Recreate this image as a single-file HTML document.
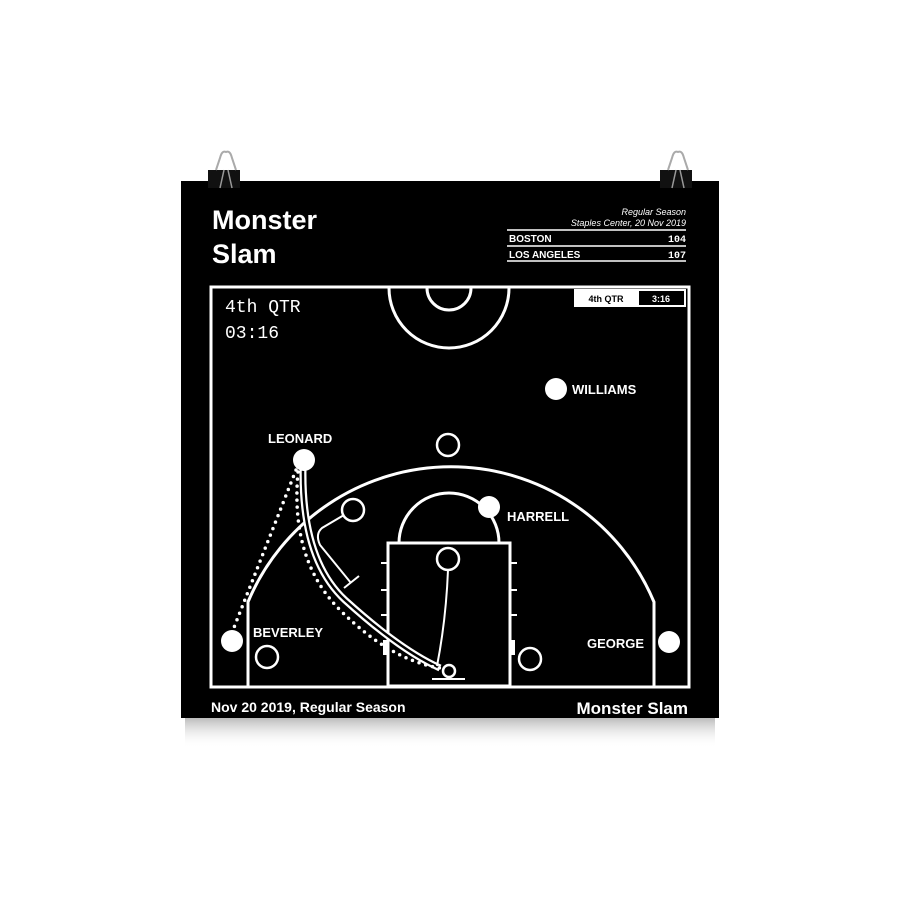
<!DOCTYPE html>
<html><head><meta charset="utf-8"><style>
html,body{margin:0;padding:0;background:#fff;width:900px;height:900px;overflow:hidden}
</style></head><body>
<svg width="900" height="900" viewBox="0 0 900 900" xmlns="http://www.w3.org/2000/svg" font-family="Liberation Sans, sans-serif">
<defs>
<linearGradient id="sh" x1="0" y1="0" x2="0" y2="1"><stop offset="0" stop-color="#bbb"/><stop offset="1" stop-color="#fff" stop-opacity="0"/></linearGradient>
</defs>
<rect x="185" y="718" width="530" height="30" fill="url(#sh)"/>
<rect x="181" y="181" width="538" height="537" fill="#000"/>
<!-- clips -->
<g>
<rect x="208" y="170" width="32" height="18" fill="#111"/>
<path d="M216 170 L220 158 Q222 150 226 152 Q230 150 232 158 L236 170" fill="none" stroke="#aaa" stroke-width="2"/>
<path d="M220 188 L224 170 M232 188 L228 170" stroke="#999" stroke-width="1.5"/>
<rect x="660" y="170" width="32" height="18" fill="#111"/>
<path d="M668 170 L672 158 Q674 150 678 152 Q682 150 684 158 L688 170" fill="none" stroke="#aaa" stroke-width="2"/>
<path d="M672 188 L676 170 M684 188 L680 170" stroke="#999" stroke-width="1.5"/>
</g>
<text x="212" y="229" fill="#fff" font-size="27" font-weight="bold">Monster</text>
<text x="212" y="263" fill="#fff" font-size="27" font-weight="bold">Slam</text>
<text x="686" y="215" fill="#fff" font-size="9" font-style="italic" text-anchor="end">Regular Season</text>
<text x="686" y="226" fill="#fff" font-size="9" font-style="italic" text-anchor="end">Staples Center, 20 Nov 2019</text>
<g stroke="#fff" stroke-width="1.5"><line x1="507" y1="230" x2="686" y2="230"/><line x1="507" y1="246" x2="686" y2="246"/><line x1="507" y1="261" x2="686" y2="261"/></g>
<text x="509" y="242" fill="#fff" font-size="10" font-weight="bold">BOSTON</text>
<text x="686" y="242" fill="#fff" font-size="10" font-weight="bold" text-anchor="end" font-family="Liberation Mono, monospace">104</text>
<text x="509" y="258" fill="#fff" font-size="10" font-weight="bold">LOS ANGELES</text>
<text x="686" y="258" fill="#fff" font-size="10" font-weight="bold" text-anchor="end" font-family="Liberation Mono, monospace">107</text>
<!-- court -->
<g fill="none" stroke="#fff" stroke-width="3">
<rect x="211" y="287" width="478" height="400"/>
<rect x="388" y="543" width="122" height="143"/>
<path d="M399 543 A50 50 0 0 1 499 543"/>
<path d="M248 686 L248 602 A220 220 0 0 1 654 602 L654 686"/>
<path d="M389 288 A60 60 0 0 0 509 288"/>
<path d="M427 288 A22 22 0 0 0 471 288"/>
</g>
<g stroke="#fff" stroke-width="2">
<line x1="381" y1="563" x2="388" y2="563"/><line x1="381" y1="590" x2="388" y2="590"/><line x1="381" y1="615" x2="388" y2="615"/>
<line x1="510" y1="563" x2="517" y2="563"/><line x1="510" y1="590" x2="517" y2="590"/><line x1="510" y1="615" x2="517" y2="615"/>
<line x1="432" y1="679" x2="465" y2="679"/>
</g>
<rect x="383" y="640" width="5" height="15" fill="#fff"/><rect x="510" y="640" width="5" height="15" fill="#fff"/>
<!-- quarter box -->
<rect x="574" y="289" width="112" height="18" fill="#fff"/>
<rect x="639" y="291" width="45" height="14" fill="#000"/>
<text x="606" y="302" font-size="9" font-weight="bold" text-anchor="middle" fill="#000">4th QTR</text>
<text x="661" y="302" font-size="9" font-weight="bold" text-anchor="middle" fill="#fff">3:16</text>
<text x="225" y="312" fill="#fff" font-size="18" font-family="Liberation Mono, monospace">4th QTR</text>
<text x="225" y="338" fill="#fff" font-size="18" font-family="Liberation Mono, monospace">03:16</text>
<!-- paths -->
<path d="M303 470 Q302 560 345 600 Q400 650 440 668" fill="none" stroke="#fff" stroke-width="7"/>
<path d="M303 470 Q302 560 345 600 Q400 650 440 668" fill="none" stroke="#000" stroke-width="2.5"/>
<path d="M296 470 L233 630" fill="none" stroke="#fff" stroke-width="3.5" stroke-dasharray="0 7" stroke-linecap="round"/>
<path d="M298 472 Q290 560 340 610 Q390 660 440 668" fill="none" stroke="#fff" stroke-width="3.5" stroke-dasharray="0 7" stroke-linecap="round"/>
<path d="M344 515 L322 528 Q315 534 320 545 L351 583" fill="none" stroke="#fff" stroke-width="2"/>
<line x1="344" y1="588" x2="359" y2="576" stroke="#fff" stroke-width="2"/>
<path d="M448 570 Q446 620 437 666" fill="none" stroke="#fff" stroke-width="2"/>
<!-- players -->
<g fill="#fff">
<circle cx="304" cy="460" r="11"/><circle cx="489" cy="507" r="11"/><circle cx="556" cy="389" r="11"/><circle cx="232" cy="641" r="11"/><circle cx="669" cy="642" r="11"/>
</g>
<g fill="none" stroke="#fff" stroke-width="2.5">
<circle cx="448" cy="445" r="11"/><circle cx="353" cy="510" r="11"/><circle cx="448" cy="559" r="11"/><circle cx="267" cy="657" r="11"/><circle cx="530" cy="659" r="11"/>
<circle cx="449" cy="671" r="6"/>
</g>
<g fill="#fff" font-size="13" font-weight="bold">
<text x="268" y="443">LEONARD</text>
<text x="507" y="521">HARRELL</text>
<text x="572" y="394">WILLIAMS</text>
<text x="253" y="637">BEVERLEY</text>
<text x="587" y="648">GEORGE</text>
</g>
<text x="211" y="712" fill="#fff" font-size="14" font-weight="bold">Nov 20 2019, Regular Season</text>
<text x="688" y="714" fill="#fff" font-size="17" font-weight="bold" text-anchor="end">Monster Slam</text>
</svg>
</body></html>
